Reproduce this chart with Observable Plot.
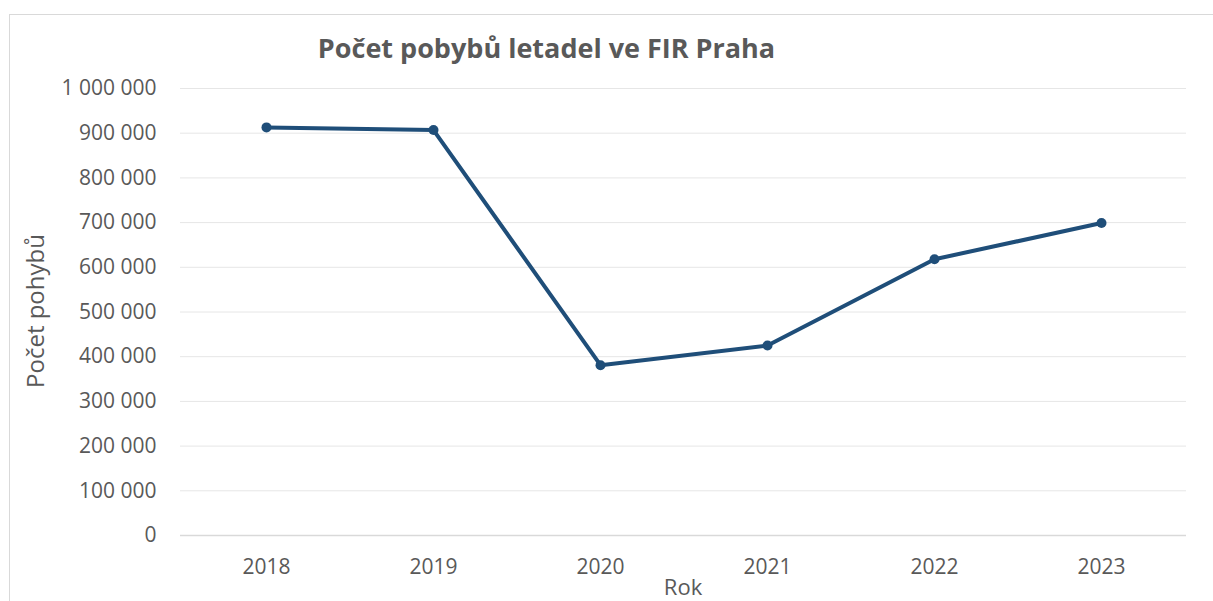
<!DOCTYPE html>
<html>
<head>
<meta charset="utf-8">
<script src="https://cdn.jsdelivr.net/npm/d3@7"></script>
<script src="https://cdn.jsdelivr.net/npm/@observablehq/plot@0.6"></script>
<style>
  html, body { margin: 0; padding: 0; background: #fff; }
  #wrap { position: relative; width: 1213px; height: 601px; overflow: hidden; font-family: "Open Sans", sans-serif; }
  #border { position: absolute; left: 9px; top: 14px; width: 1300px; height: 700px; border: 1px solid #d9d9d9; box-sizing: border-box; }
  #title { position: absolute; left: 0; width: 1093px; top: 34px; text-align: center; font-size: 27px; font-weight: 700; color: #595959; line-height: 1; white-space: nowrap; }
  #ylabel { position: absolute; left: 35px; top: 311px; transform: translate(-50%, -50%) rotate(-90deg); font-size: 24px; color: #595959; line-height: 1; white-space: nowrap; }
  #xlabel { position: absolute; left: 683px; top: 586px; transform: translate(-50%, -50%); font-size: 22px; color: #595959; line-height: 1; white-space: nowrap; }
  #chart { position: absolute; left: 0; top: 0; }
</style>
</head>
<body>
<div id="wrap">
  <div id="border"></div>
  <div id="chart"></div>
  <div id="title">Počet pobybů letadel ve FIR Praha</div>
  <div id="ylabel">Počet pohybů</div>
  <div id="xlabel">Rok</div>
</div>
<script>
const years = ["2018", "2019", "2020", "2021", "2022", "2023"];
const movements = [913000, 907000, 381000, 425000, 618000, 699000];
const yTicks = [0, 100000, 200000, 300000, 400000, 500000, 600000, 700000, 800000, 900000, 1000000];

const data = years.map((y, i) => ({year: y, value: movements[i]}));
const fmt = d => d3.format(",")(d).replace(/,/g, " ");

const plot = Plot.plot({
  width: 1213,
  height: 601,
  marginTop: 88,
  marginBottom: 66,
  marginLeft: 180,
  marginRight: 27,
  style: {fontFamily: "Open Sans, sans-serif", fontSize: "21px", color: "#595959", background: "transparent", overflow: "visible"},
  x: {type: "point", domain: years, padding: 0.5, label: null},
  y: {domain: [0, 1000000], label: null},
  marks: [
    Plot.gridY(yTicks.filter(d => d > 0), {stroke: "#e6e6e6", strokeOpacity: 1, strokeWidth: 1}),
    Plot.ruleY([0], {stroke: "#d9d9d9", strokeWidth: 1.5}),
    Plot.axisY({ticks: yTicks, tickFormat: fmt, tickSize: 0, tickPadding: 24, fill: "#595959", label: null}),
    Plot.axisX({tickSize: 0, tickPadding: 24, fill: "#595959", label: null}),
    Plot.line(data, {x: "year", y: "value", stroke: "#1f4e79", strokeWidth: 4}),
    Plot.dot(data, {x: "year", y: "value", r: 5, fill: "#1f4e79", stroke: "none"})
  ]
});
document.getElementById("chart").appendChild(plot);
</script>
</body>
</html>
